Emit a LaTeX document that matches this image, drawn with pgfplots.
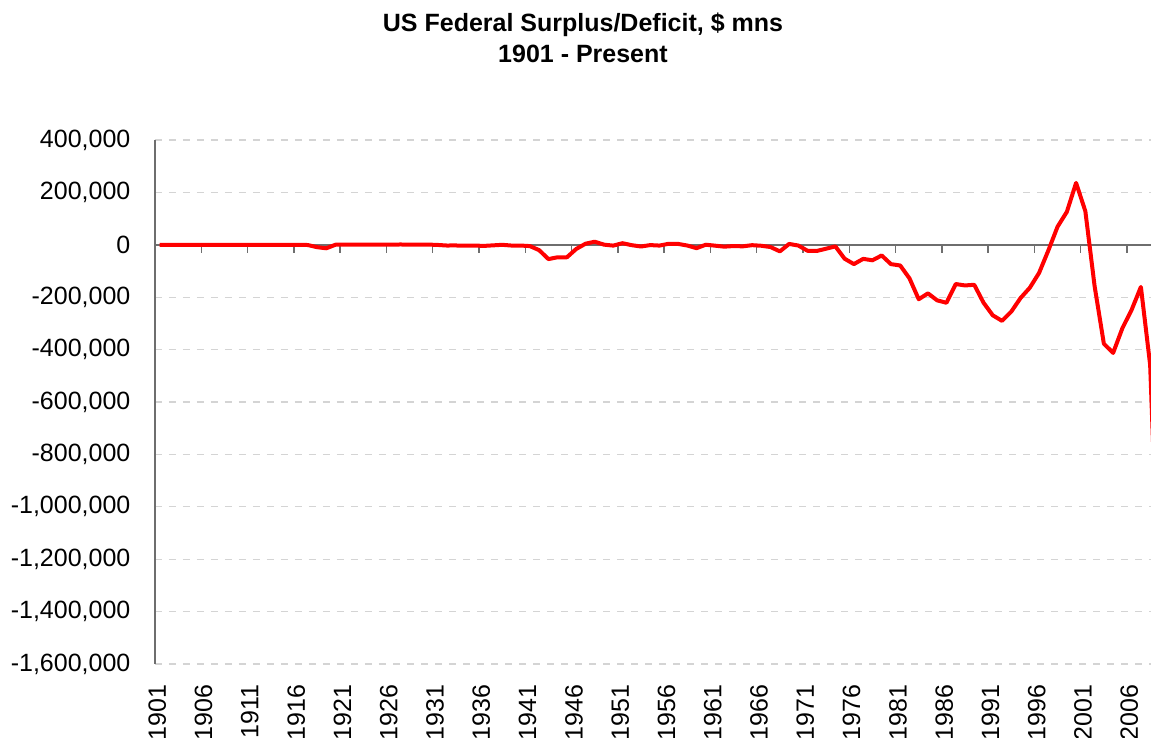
\documentclass[border=0pt]{standalone}
\usepackage{fontspec}
\setmainfont{Liberation Sans}
\usepackage{pgfplots}
\pgfplotsset{compat=1.18}

\definecolor{axisgray}{RGB}{110,110,110}
\definecolor{gridgray}{RGB}{212,212,212}

\pgfplotsset{
  deficitframe/.style={
    at={(0,0)}, anchor=south west,
    scale only axis, width=498.5pt, height=262pt,
    xmin=1900.5, xmax=2008.2,
    ymin=-1600000, ymax=400000,
    tick label style={font=\fontsize{12.5}{15}\selectfont},
  },
}

\begin{document}
\begin{tikzpicture}
\useasboundingbox (-77.5pt,-37pt) rectangle (498pt,332pt);

% year labels along the bottom of the plot area
\begin{axis}[
  deficitframe,
  hide y axis,
  axis x line*=bottom,
  x axis line style={draw=none},
  major tick length=0pt,
  xtick={1900.75,1905.75,1910.75,1915.75,1920.75,1925.75,1930.75,1935.75,1940.75,1945.75,1950.75,
         1955.75,1960.75,1965.75,1970.75,1975.75,1980.75,1985.75,1990.75,1995.75,2000.75,2005.75},
  xticklabels={1901,1906,1911,1916,1921,1926,1931,1936,1941,1946,1951,
               1956,1961,1966,1971,1976,1981,1986,1991,1996,2001,2006},
  xticklabel style={yshift=-6.7pt, rotate=90, anchor=east},
]
\end{axis}

% the chart itself, horizontal axis crossing at zero
\begin{axis}[
  deficitframe,
  axis x line=middle, axis y line=left,
  axis line style={-, draw=axisgray, line width=0.75pt},
  xtick={1900.5,1905.5,...,2008},
  xticklabels={},
  xtick align=outside,
  x tick style={draw=axisgray, line width=0.75pt},
  major tick length=4pt,
  scaled y ticks=false,
  ytick={-1600000,-1400000,-1200000,-1000000,-800000,-600000,-400000,-200000,0,200000,400000},
  yticklabels={{-1,600,000},{-1,400,000},{-1,200,000},{-1,000,000},{-800,000},{-600,000},
               {-400,000},{-200,000},{0},{200,000},{400,000}},
  ytick style={draw=none},
  yticklabel style={xshift=-6.8pt},
  ymajorgrids,
  y grid style={draw=gridgray, line width=0.6pt, dash pattern=on 3.5pt off 3.5pt},
]
\addplot[red, line width=2pt, line join=round] coordinates {
(1901,63) (1902,77) (1903,45) (1904,-43) (1905,-23) (1906,25) (1907,87) (1908,-57)
(1909,-89) (1910,-18) (1911,11) (1912,3) (1913,0) (1914,0) (1915,-63) (1916,48)
(1917,-853) (1918,-9032) (1919,-13363) (1920,291) (1921,509) (1922,736) (1923,713)
(1924,963) (1925,717) (1926,865) (1927,1155) (1928,939) (1929,734) (1930,738)
(1931,-462) (1932,-2735) (1933,-2602) (1934,-3586) (1935,-2803) (1936,-4304)
(1937,-2193) (1938,-89) (1939,-2846) (1940,-2920) (1941,-4941) (1942,-20503)
(1943,-54554) (1944,-47557) (1945,-47553) (1946,-15936) (1947,4018) (1948,11796)
(1949,580) (1950,-3119) (1951,6102) (1952,-1519) (1953,-6493) (1954,-1154)
(1955,-2993) (1956,3947) (1957,3412) (1958,-2769) (1959,-12849) (1960,301)
(1961,-3335) (1962,-7146) (1963,-4756) (1964,-5915) (1965,-1411) (1966,-3698)
(1967,-8643) (1968,-25161) (1969,3242) (1970,-2842) (1971,-23033) (1972,-23373)
(1973,-14908) (1974,-6135) (1975,-53242) (1976,-73732) (1977,-53659) (1978,-59185)
(1979,-40726) (1980,-73830) (1981,-78968) (1982,-127977) (1983,-207802)
(1984,-185367) (1985,-212308) (1986,-221227) (1987,-149730) (1988,-155178)
(1989,-152639) (1990,-221036) (1991,-269238) (1992,-290321) (1993,-255051)
(1994,-203186) (1995,-163952) (1996,-107431) (1997,-21884) (1998,69270)
(1999,125610) (2000,236241) (2001,128236) (2002,-157758) (2003,-377585)
(2004,-412727) (2005,-318346) (2006,-248181) (2007,-160701) (2008,-458553)
(2009,-1412688)
};
\end{axis}

\node[align=center, anchor=north, inner sep=0pt,
      font=\bfseries\fontsize{12.5}{15.5}\selectfont]
  at (214pt,325.5pt) {US Federal Surplus/Deficit, \$ mns\\1901 - Present};
\end{tikzpicture}
\end{document}
